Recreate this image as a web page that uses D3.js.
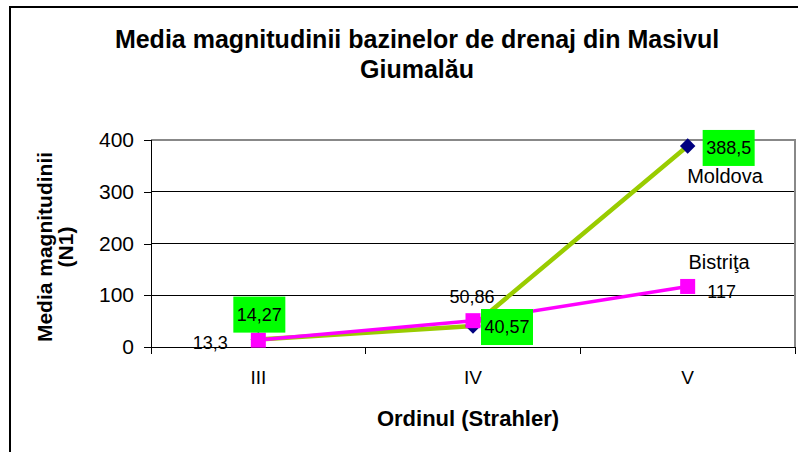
<!DOCTYPE html>
<html><head><meta charset="utf-8">
<script src="https://cdn.jsdelivr.net/npm/d3@7"></script>
<style>body{margin:0;background:#fff}svg{display:block}text{font-family:"Liberation Sans",Arial,sans-serif}</style>
</head><body><svg id="c" width="798" height="452"></svg>
<script>
const categories = ["III", "IV", "V"];
const moldova = [14.27, 40.57, 388.5];
const bistrita = [13.3, 50.86, 117];
const moldovaLabels = ["14,27", "40,57", "388,5"];
const bistritaLabels = ["13,3", "50,86", "117"];
const yTicks = [0, 100, 200, 300, 400];

const svg = d3.select("#c");
svg.append("rect").attr("x",10).attr("y",7).attr("width",800).attr("height",460)
  .attr("fill","#fff").attr("stroke","#000").attr("stroke-width",2);

const L=151, R=795, T=140, B=347;
const x = d3.scaleBand().domain(categories).range([L,R]);
const y = d3.scaleLinear().domain([0,400]).range([B,T]);
const cx = d => x(d)+x.bandwidth()/2;

// grid
svg.append("g").selectAll("line").data(yTicks.slice(1,4)).join("line")
  .attr("x1",L).attr("x2",R).attr("y1",d=>y(d)).attr("y2",d=>y(d))
  .attr("stroke","#000").attr("stroke-width",1).attr("shape-rendering","crispEdges");
// plot border top/right
svg.append("path").attr("d",`M${L},${T}H${R}V${B}`).attr("fill","none")
  .attr("stroke","#888").attr("stroke-width",1.5).attr("shape-rendering","crispEdges");

// y axis
const ya = svg.append("g").attr("transform",`translate(${L},0)`)
  .call(d3.axisLeft(y).tickValues(yTicks).tickSize(7).tickPadding(10).tickFormat(d3.format("d")));
ya.select(".domain").attr("stroke","#000").attr("shape-rendering","crispEdges");
ya.selectAll(".tick line").attr("stroke","#000").attr("shape-rendering","crispEdges");
ya.selectAll("text").attr("font-size",21).attr("font-family","Liberation Sans, Arial").attr("fill","#000");

// x axis
const xa = svg.append("g").attr("transform",`translate(0,${B})`)
  .call(d3.axisBottom(x).tickSize(0).tickPadding(24));
xa.select(".domain").remove();
xa.selectAll("text").attr("font-size",19).attr("font-family","Liberation Sans, Arial").attr("fill","#000");
svg.append("line").attr("x1",L).attr("x2",R).attr("y1",B).attr("y2",B).attr("stroke","#000").attr("shape-rendering","crispEdges");
svg.append("g").selectAll("line").data(d3.range(4)).join("line")
  .attr("x1",i=>L+i*x.bandwidth()).attr("x2",i=>L+i*x.bandwidth())
  .attr("y1",B).attr("y2",B+7).attr("stroke","#000").attr("shape-rendering","crispEdges");

const line = d3.line().x((d,i)=>cx(categories[i])).y(d=>y(d));
// Moldova line + diamonds
svg.append("path").datum(moldova).attr("d",line).attr("fill","none").attr("stroke","#99CC00").attr("stroke-width",4.5);
svg.append("g").selectAll("path").data(moldova).join("path")
  .attr("d",d3.symbol(d3.symbolSquare,120)())
  .attr("transform",(d,i)=>`translate(${cx(categories[i])},${y(d)}) rotate(45)`)
  .attr("fill","#000080");
// Bistrita line + squares
svg.append("path").datum(bistrita).attr("d",line).attr("fill","none").attr("stroke","#FF00FF").attr("stroke-width",3.5);
svg.append("g").selectAll("rect").data(bistrita).join("rect")
  .attr("x",(d,i)=>cx(categories[i])-7.5).attr("y",d=>y(d)-7.5)
  .attr("width",15).attr("height",15).attr("fill","#FF00FF");

// Moldova labels (green boxes)
const mOff = [[1,-25],[34,1],[41,2]];
const mg = svg.append("g").selectAll("g").data(moldova).join("g")
  .attr("transform",(d,i)=>`translate(${cx(categories[i])+mOff[i][0]},${y(d)+mOff[i][1]})`);
mg.append("rect").attr("x",-26).attr("y",-18).attr("width",52).attr("height",36).attr("fill","#00FF00");
mg.append("text").attr("text-anchor","middle").attr("dy","0.35em").attr("font-size",18)
  .text((d,i)=>moldovaLabels[i]);

// Bistrita labels
const bOff = [[-48,3],[-1,-24],[34,5]];
svg.append("g").selectAll("text").data(bistrita).join("text")
  .attr("x",(d,i)=>cx(categories[i])+bOff[i][0]).attr("y",(d,i)=>y(d)+bOff[i][1])
  .attr("text-anchor","middle").attr("dy","0.35em").attr("font-size",18)
  .text((d,i)=>bistritaLabels[i]);

// series names
svg.append("text").attr("x",725).attr("y",183).attr("text-anchor","middle").attr("font-size",20).text("Moldova");
svg.append("text").attr("x",719).attr("y",269).attr("text-anchor","middle").attr("font-size",20).text("Bistriţa");

// titles
svg.append("text").attr("x",417).attr("y",48).attr("text-anchor","middle").attr("font-size",25).attr("font-weight","bold")
  .text("Media magnitudinii bazinelor de drenaj din Masivul");
svg.append("text").attr("x",417).attr("y",78).attr("text-anchor","middle").attr("font-size",25).attr("font-weight","bold")
  .text("Giumalău");
svg.append("text").attr("x",468).attr("y",426).attr("text-anchor","middle").attr("font-size",22).attr("font-weight","bold")
  .text("Ordinul (Strahler)");
const yt = svg.append("text").attr("transform","translate(52,247) rotate(-90)").attr("text-anchor","middle")
  .attr("font-size",21).attr("font-weight","bold");
yt.append("tspan").attr("x",0).attr("dy",0).text("Media magnitudinii");
yt.append("tspan").attr("x",0).attr("dy",21).text("(N1)");
</script></body></html>
